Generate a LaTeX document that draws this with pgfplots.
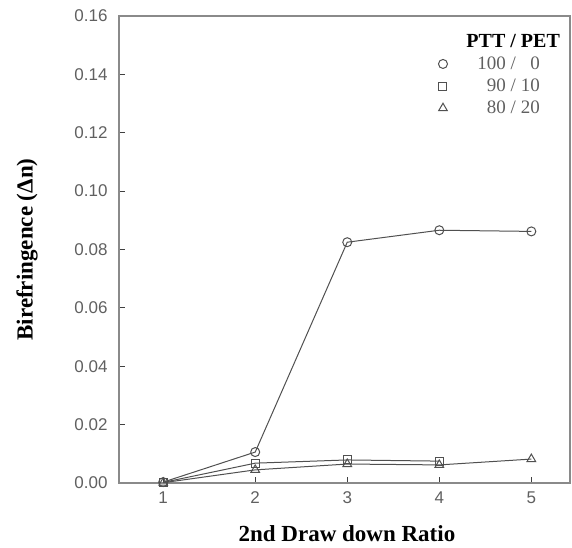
\documentclass[border=0pt]{standalone}
\usepackage{pgfplots}
\pgfplotsset{compat=1.18}
\usepackage{fontspec}
\setmainfont{Liberation Serif}
\setsansfont{Liberation Sans}
\definecolor{axgray}{HTML}{8A8A8A}
\definecolor{lngray}{HTML}{505050}
\definecolor{txgray}{HTML}{606060}
\begin{document}
\begin{tikzpicture}
\useasboundingbox (-119pt,-64pt) rectangle (453pt,483pt);
\begin{axis}[
  at={(0pt,0pt)}, anchor=south west,
  width=451pt, height=467pt, scale only axis,
  xmin=0.52, xmax=5.42, ymin=0, ymax=0.16,
  xtick={1,2,3,4,5}, ytick={0,0.02,...,0.16},
  tick pos=left, tick align=inside, major tick length=6pt,
  axis line style={axgray, line width=1.2pt},
  every tick/.style={black!75, line width=1pt},
  /pgf/number format/assume math mode=true,
  yticklabel style={/pgf/number format/fixed, /pgf/number format/fixed zerofill, /pgf/number format/precision=2, xshift=-8pt},
  ticklabel style={font=\sffamily\fontsize{17}{17}\selectfont, text=txgray},
  xticklabel style={yshift=-5pt},
  xlabel={\textbf{2nd Draw down Ratio}},
  ylabel={\textbf{Birefringence (Δn)}},
  label style={font=\fontsize{23}{23}\selectfont},
  xlabel style={at={(axis description cs:0.5055,-0.1263)}, anchor=base},
  ylabel style={at={(axis description cs:-0.204,0.5)}, anchor=center},
  legend style={draw=none, fill=none, at={(axis description cs:0.989,0.970)}, anchor=north east,
    font=\fontsize{19}{19}\selectfont, text=txgray, row sep=4pt},
  legend cell align=left,
  legend image post style={only marks},
  every axis plot/.append style={line width=1pt, lngray, mark options={solid, fill=white, draw=lngray, line width=1pt}},
]
\addlegendimage{empty legend}
\addlegendentry{\hspace{17pt}\textcolor{black}{\bfseries\fontsize{20}{20}\selectfont PTT / PET}\rule[-9pt]{0pt}{9pt}}
\addplot[mark=o, mark size=4.5pt] coordinates {(1,0.0003) (2,0.0106) (3,0.0825) (4,0.0866) (5,0.0862)};
\addlegendentry{\hspace{28pt}100 / \phantom{0}0}
\addplot[mark=square, mark size=4pt] coordinates {(1,0.0002) (2,0.0068) (3,0.0079) (4,0.0075)};
\addlegendentry{\hspace{28pt}\phantom{0}90 / 10}
\addplot[mark=triangle, mark size=5pt] coordinates {(1,0.0001) (2,0.0045) (3,0.0065) (4,0.0062) (5,0.0082)};
\addlegendentry{\hspace{28pt}\phantom{0}80 / 20}
\end{axis}
\end{tikzpicture}
\end{document}
